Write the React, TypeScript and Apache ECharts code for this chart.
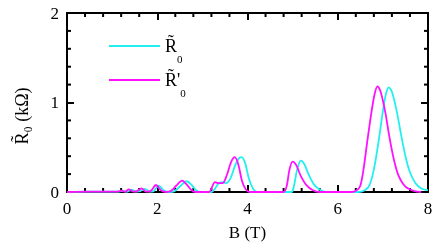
import React, { useEffect, useRef } from "react";
import * as echarts from "echarts";

const xTicks = [0, 2, 4, 6, 8];
const yTicks = [0, 1, 2];
const xMinorTicks = [0.4, 0.8, 1.2, 1.6, 2.4, 2.8, 3.2, 3.6, 4.4, 4.8, 5.2, 5.6, 6.4, 6.8, 7.2, 7.6];
const yMinorTicks = [0.2, 0.4, 0.6, 0.8, 1.2, 1.4, 1.6, 1.8];
const seriesNames = ["R0", "R'0"];
const seriesColors = ["#22f0f0", "#ff11ff"];

// R~0 (cyan): [B (T), R (kΩ)]
const r0: [number, number][] = [
  [0, 0], [0.5, 0.005], [1.0, 0.005], [1.15, 0.005], [1.25, 0.012], [1.33, 0.003],
  [1.43, 0.025], [1.53, 0.005], [1.62, 0.01], [1.73, 0.035], [1.83, 0.005], [1.92, 0.01],
  [2.03, 0.072], [2.14, 0.02], [2.26, 0], [2.38, 0.01], [2.52, 0.07], [2.65, 0.12],
  [2.76, 0.08], [2.86, 0.02], [2.95, 0], [3.2, 0], [3.27, 0.03], [3.35, 0.09],
  [3.43, 0.11], [3.52, 0.1], [3.62, 0.15], [3.72, 0.29], [3.8, 0.37], [3.87, 0.39],
  [3.95, 0.32], [4.03, 0.15], [4.12, 0.04], [4.2, 0], [4.97, 0], [5.03, 0.07],
  [5.1, 0.25], [5.18, 0.35], [5.26, 0.31], [5.36, 0.19], [5.48, 0.08], [5.62, 0.02],
  [5.75, 0], [6.45, 0], [6.6, 0.02], [6.7, 0.07], [6.8, 0.25], [6.9, 0.55],
  [7.0, 0.9], [7.07, 1.1], [7.13, 1.17], [7.2, 1.12], [7.3, 0.92], [7.4, 0.65],
  [7.5, 0.4], [7.6, 0.22], [7.72, 0.1], [7.85, 0.04], [8, 0.02],
];

// R~'0 (magenta)
const r0p: [number, number][] = [
  [0, 0], [0.5, 0.005], [1.0, 0.005], [1.12, 0.005], [1.21, 0.015], [1.29, 0.003],
  [1.37, 0.03], [1.47, 0.005], [1.55, 0.01], [1.65, 0.04], [1.75, 0.005], [1.85, 0.01],
  [1.97, 0.078], [2.08, 0.02], [2.2, 0], [2.3, 0.01], [2.42, 0.07], [2.55, 0.126],
  [2.66, 0.08], [2.76, 0.02], [2.85, 0], [3.15, 0], [3.2, 0.04], [3.28, 0.11],
  [3.36, 0.1], [3.45, 0.1], [3.55, 0.2], [3.64, 0.34], [3.72, 0.39], [3.8, 0.3],
  [3.88, 0.12], [3.96, 0.03], [4.05, 0], [4.8, 0], [4.87, 0.07], [4.93, 0.25],
  [5.0, 0.34], [5.08, 0.3], [5.18, 0.18], [5.3, 0.08], [5.45, 0.02], [5.6, 0],
  [6.3, 0], [6.42, 0.02], [6.5, 0.07], [6.57, 0.25], [6.65, 0.55], [6.75, 0.9],
  [6.82, 1.1], [6.88, 1.18], [6.95, 1.12], [7.05, 0.9], [7.15, 0.6], [7.25, 0.35],
  [7.35, 0.18], [7.5, 0.06], [7.7, 0.01], [7.85, 0],
];

const FONT = "Liberation Serif";

function makeAxis(kind: "x" | "y", position: string, labeled: boolean) {
  const ticks = kind === "x" ? xTicks : yTicks;
  return {
    type: "value",
    position,
    min: ticks[0],
    max: ticks[ticks.length - 1],
    interval: ticks[1] - ticks[0],
    splitLine: { show: false },
    axisLine: { show: true, onZero: false, lineStyle: { color: "#000", width: 2 } },
    axisTick: { show: true, inside: true, length: 7, lineStyle: { color: "#000", width: 2 } },
    axisLabel: labeled
      ? { show: true, margin: 8, fontFamily: FONT, fontSize: 17, color: "#000" }
      : { show: false },
  };
}

export default function App() {
  const ref = useRef<HTMLDivElement>(null);
  useEffect(() => {
    if (!ref.current) return;
    const chart = echarts.init(ref.current, undefined, { renderer: "svg" });
    const main = { fontSize: 18, fontFamily: FONT, color: "#000", lineHeight: 26 };
    const sub = { fontSize: 11, fontFamily: FONT, color: "#000", verticalAlign: "bottom", lineHeight: 26, padding: [0, 0, -5, 0] };
    const xMax = xTicks[xTicks.length - 1];
    const yMax = yTicks[yTicks.length - 1];
    chart.setOption({
      animation: false,
      grid: { left: 67, right: 8, top: 13, bottom: 58 },
      legend: {
        orient: "vertical",
        left: 104,
        top: 32,
        itemWidth: 51,
        itemHeight: 2,
        itemGap: 7,
        icon: "path://M0,0 L51,0 L51,2 L0,2 Z",
        data: seriesNames,
        formatter: (name: string) =>
          name === seriesNames[0] ? "{m|R\u0303}{s|0}" : "{m|R\u0303'}{s|0}",
        textStyle: { color: "#000", fontFamily: FONT, rich: { m: main, s: sub } },
      },
      xAxis: [
        {
          ...makeAxis("x", "bottom", true),
          name: "B (T)", nameLocation: "middle", nameGap: 32,
          nameTextStyle: { fontFamily: FONT, fontSize: 17, color: "#000" },
        },
        makeAxis("x", "top", false),
      ],
      yAxis: [
        {
          ...makeAxis("y", "left", true),
          name: "R\u0303\u2080 (k\u03A9)", nameLocation: "middle", nameGap: 36,
          nameTextStyle: { fontFamily: FONT, fontSize: 18, color: "#000", padding: [0, 27, 0, 0] },
        },
        makeAxis("y", "right", false),
      ],
      series: [
        {
          name: seriesNames[0], type: "line", data: r0,
          itemStyle: { color: seriesColors[0] },
          showSymbol: false, smooth: 0.3, lineStyle: { color: seriesColors[0], width: 1.8 },
        },
        {
          name: seriesNames[1], type: "line", data: r0p,
          itemStyle: { color: seriesColors[1] },
          showSymbol: false, smooth: 0.3, lineStyle: { color: seriesColors[1], width: 1.8 },
        },
        {
          name: "xMinor", type: "custom", silent: true, clip: false,
          data: xMinorTicks.map((v) => [v, 0]),
          renderItem: (_p: any, api: any) => {
            const b = api.coord([api.value(0), 0]);
            const t = api.coord([api.value(0), yMax]);
            return {
              type: "group",
              children: [
                { type: "line", shape: { x1: b[0], y1: b[1], x2: b[0], y2: b[1] - 4 }, style: { stroke: "#000", lineWidth: 2 } },
                { type: "line", shape: { x1: t[0], y1: t[1], x2: t[0], y2: t[1] + 4 }, style: { stroke: "#000", lineWidth: 2 } },
              ],
            };
          },
        },
        {
          name: "yMinor", type: "custom", silent: true, clip: false,
          data: yMinorTicks.map((v) => [0, v]),
          renderItem: (_p: any, api: any) => {
            const l = api.coord([0, api.value(1)]);
            const r = api.coord([xMax, api.value(1)]);
            return {
              type: "group",
              children: [
                { type: "line", shape: { x1: l[0], y1: l[1], x2: l[0] + 4, y2: l[1] }, style: { stroke: "#000", lineWidth: 2 } },
                { type: "line", shape: { x1: r[0], y1: r[1], x2: r[0] - 4, y2: r[1] }, style: { stroke: "#000", lineWidth: 2 } },
              ],
            };
          },
        },
      ],
    });
    return () => chart.dispose();
  }, []);
  return <div ref={ref} style={{ position: "fixed", left: 0, top: 0, width: 436, height: 250 }} />;
}
